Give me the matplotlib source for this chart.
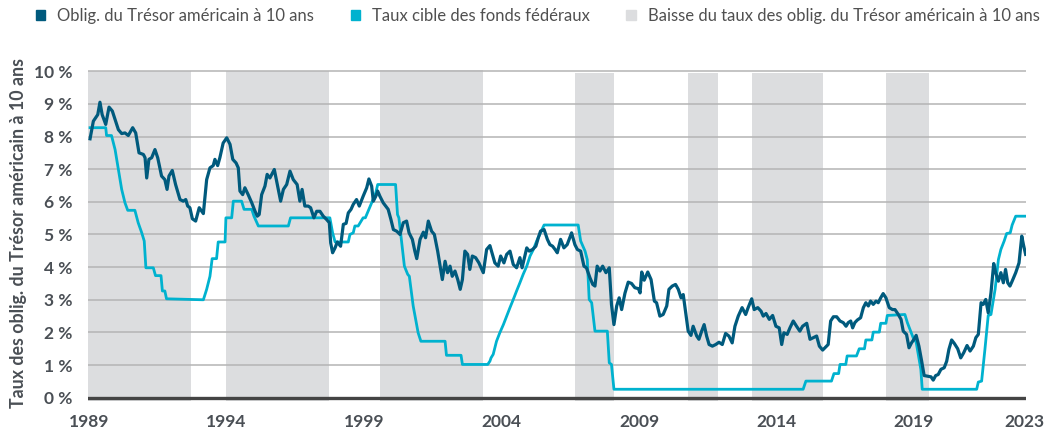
import matplotlib
matplotlib.use("Agg")
import matplotlib.pyplot as plt
from matplotlib.patches import Patch

# 10-year Treasury yield (chart-year, %)
t10_year = [1989.04, 1989.16, 1989.32, 1989.40, 1989.48, 1989.61, 1989.73, 1989.85, 1989.97,
            1990.07, 1990.19, 1990.31, 1990.43, 1990.59, 1990.70, 1990.82, 1990.98,
            1991.04, 1991.10, 1991.18, 1991.28, 1991.40, 1991.50, 1991.64, 1991.76, 1991.84, 1991.91,
            1992.03, 1992.15, 1992.31, 1992.43, 1992.52, 1992.59, 1992.67, 1992.76, 1992.88,
            1993.01, 1993.16, 1993.28, 1993.40, 1993.52, 1993.58, 1993.68, 1993.76, 1993.88,
            1994.01, 1994.13, 1994.23, 1994.35, 1994.43, 1994.49, 1994.59, 1994.67, 1994.79, 1994.92,
            1995.04, 1995.12, 1995.19, 1995.28, 1995.40, 1995.48, 1995.58, 1995.74, 1995.85, 1995.97,
            1996.07, 1996.19, 1996.31, 1996.43, 1996.57, 1996.67, 1996.75, 1996.85, 1996.97,
            1997.06, 1997.18, 1997.28, 1997.40, 1997.52, 1997.64, 1997.74, 1997.79, 1997.86, 1997.95,
            1998.03, 1998.15, 1998.25, 1998.35, 1998.43, 1998.53, 1998.61, 1998.73, 1998.83, 1998.97,
            1999.10, 1999.18, 1999.28, 1999.34, 1999.43, 1999.50, 1999.58, 1999.70, 1999.88, 1999.98,
            2000.07, 2000.19, 2000.31, 2000.43, 2000.55, 2000.64, 2000.76, 2000.85, 2000.92,
            2001.04, 2001.16, 2001.24, 2001.34, 2001.46, 2001.56, 2001.68, 2001.76, 2001.85, 2001.95,
            2002.04, 2002.13, 2002.21, 2002.31, 2002.41, 2002.50, 2002.58, 2002.67, 2002.77, 2002.85, 2002.94,
            2003.06, 2003.18, 2003.34, 2003.46, 2003.58, 2003.76, 2003.88, 2003.97,
            2004.09, 2004.19, 2004.31, 2004.43, 2004.55, 2004.67, 2004.75, 2004.92,
            2005.01, 2005.13, 2005.25, 2005.34, 2005.42, 2005.55, 2005.67, 2005.76, 2005.86, 2005.95,
            2006.03, 2006.15, 2006.27, 2006.39, 2006.55, 2006.67, 2006.76, 2006.88,
            2007.00, 2007.09, 2007.22, 2007.32, 2007.40, 2007.48, 2007.58, 2007.68, 2007.80, 2007.92,
            2008.00, 2008.09, 2008.19, 2008.28, 2008.37, 2008.49, 2008.61, 2008.73, 2008.85, 2008.98,
            2009.04, 2009.10, 2009.19, 2009.32, 2009.44, 2009.56, 2009.64, 2009.76, 2009.88,
            2010.01, 2010.09, 2010.21, 2010.33, 2010.43, 2010.53, 2010.61, 2010.70, 2010.79, 2010.89, 2010.97,
            2011.10, 2011.18, 2011.28, 2011.37, 2011.46, 2011.55, 2011.67, 2011.79, 2011.91,
            2012.03, 2012.15, 2012.27, 2012.39, 2012.49, 2012.61, 2012.75, 2012.88, 2012.97,
            2013.10, 2013.19, 2013.32, 2013.44, 2013.52, 2013.62, 2013.74, 2013.86, 2013.98,
            2014.10, 2014.19, 2014.27, 2014.39, 2014.49, 2014.61, 2014.73, 2014.85, 2014.95,
            2015.10, 2015.22, 2015.34, 2015.46, 2015.56, 2015.68, 2015.80, 2015.88, 2015.97,
            2016.07, 2016.19, 2016.31, 2016.43, 2016.53, 2016.61, 2016.70, 2016.77, 2016.85, 2016.94,
            2017.06, 2017.16, 2017.25, 2017.34, 2017.42, 2017.52, 2017.62, 2017.70, 2017.79, 2017.88, 2017.98,
            2018.10, 2018.22, 2018.31, 2018.43, 2018.53, 2018.61, 2018.73, 2018.82, 2018.91,
            2019.00, 2019.08, 2019.18, 2019.28, 2019.37, 2019.50, 2019.62, 2019.70, 2019.79, 2019.88, 2019.98,
            2020.10, 2020.19, 2020.27, 2020.37, 2020.47, 2020.59, 2020.70, 2020.81, 2020.93,
            2021.04, 2021.16, 2021.25, 2021.34, 2021.44, 2021.52, 2021.61, 2021.70, 2021.80, 2021.90, 2021.97,
            2022.07, 2022.16, 2022.25, 2022.33, 2022.41, 2022.49, 2022.57, 2022.70, 2022.82, 2022.92, 2022.98,
            2023.06]
t10_val = [7.93, 8.47, 8.67, 9.05, 8.67, 8.37, 8.90, 8.78, 8.47,
           8.21, 8.09, 8.11, 8.03, 8.27, 8.11, 7.50, 7.45,
           7.35, 6.73, 7.30, 7.35, 7.60, 7.35, 6.79, 6.68, 6.38, 6.79,
           6.96, 6.53, 6.07, 6.02, 6.07, 5.87, 5.82, 5.48, 5.41,
           5.82, 5.64, 6.68, 7.04, 7.11, 7.30, 7.11, 7.35, 7.80,
           7.96, 7.76, 7.30, 7.19, 7.04, 6.33, 6.22, 6.43, 6.22, 5.97,
           5.71, 5.56, 5.61, 6.22, 6.48, 6.84, 6.73, 6.99, 6.53, 6.02,
           6.38, 6.53, 6.94, 6.68, 6.53, 6.02, 6.38, 5.87, 5.87,
           5.82, 5.51, 5.71, 5.71, 5.56, 5.46, 5.36, 4.74, 4.44, 4.59,
           4.77, 4.64, 5.31, 5.34, 5.66, 5.77, 5.92, 6.07, 5.87, 6.17,
           6.43, 6.70, 6.48, 6.02, 6.17, 6.33, 6.17, 5.97, 5.77, 5.46,
           5.15, 5.10, 5.00, 5.36, 5.41, 5.05, 4.85, 4.49, 4.26,
           4.85, 5.07, 4.90, 5.41, 5.10, 5.00, 4.49, 4.08, 3.62, 4.18,
           3.83, 4.03, 3.72, 3.88, 3.62, 3.32, 3.62, 4.49, 4.39, 3.93, 4.34,
           4.29, 4.13, 3.83, 4.54, 4.66, 4.13, 4.03, 4.34,
           4.13, 4.39, 4.49, 4.08, 3.98, 4.29, 3.98, 4.59,
           4.49, 4.54, 4.64, 4.90, 5.10, 5.15, 4.85, 4.69, 4.64, 4.54,
           4.44, 4.85, 4.59, 4.69, 5.05, 4.69, 4.54, 4.49,
           4.03, 3.98, 3.67, 3.47, 3.42, 4.03, 3.88, 4.03, 3.83, 3.98,
           2.86, 2.24, 2.81, 3.06, 2.70, 3.20, 3.54, 3.50, 3.37, 3.34,
           3.21, 3.85, 3.60, 3.85, 3.62, 2.96, 2.91, 2.50, 2.55,
           2.81, 3.32, 3.42, 3.47, 3.32, 3.06, 3.16, 2.60, 2.04, 1.91, 2.19,
           1.89, 1.79, 2.04, 2.24, 1.89, 1.63, 1.58, 1.63, 1.70,
           1.63, 1.97, 1.89, 1.68, 2.19, 2.50, 2.76, 2.55, 2.76,
           3.03, 2.70, 2.76, 2.65, 2.50, 2.58, 2.40, 2.52, 2.19,
           2.14, 1.63, 1.99, 1.94, 2.14, 2.35, 2.19, 2.04, 2.19,
           2.28, 1.79, 1.84, 1.89, 1.58, 1.46, 1.56, 1.63, 2.35,
           2.48, 2.48, 2.35, 2.30, 2.19, 2.30, 2.35, 2.14, 2.30, 2.38,
           2.45, 2.76, 2.91, 2.81, 2.96, 2.86, 2.96, 2.91, 3.06, 3.19, 3.06,
           2.76, 2.70, 2.70, 2.55, 2.40, 2.04, 1.94, 1.53, 1.68,
           1.79, 1.91, 1.58, 1.12, 0.68, 0.66, 0.64, 0.54, 0.68, 0.71, 0.87,
           0.92, 1.12, 1.48, 1.77, 1.66, 1.50, 1.22, 1.38, 1.60,
           1.43, 1.58, 1.84, 1.94, 2.91, 2.86, 3.01, 2.60, 3.21, 4.11, 3.83,
           3.57, 3.83, 3.52, 3.93, 3.52, 3.42, 3.57, 3.83, 4.13, 4.95, 4.69,
           4.39]

# Fed funds target rate (chart-year, %)
ff_year = [1989.04, 1989.61, 1989.64, 1989.82, 1989.95, 1990.07, 1990.19, 1990.31, 1990.41, 1990.67,
           1990.79, 1990.92, 1991.01, 1991.07, 1991.34, 1991.42, 1991.62, 1991.67, 1991.76, 1991.82,
           1993.16, 1993.28, 1993.40, 1993.48, 1993.64, 1993.70, 1993.95, 1993.98, 1994.19, 1994.25,
           1994.55, 1994.64, 1994.92, 1995.00, 1995.16, 1996.25, 1996.33, 1997.76, 1997.86, 1997.95,
           1998.43, 1998.49, 1998.61, 1998.67, 1998.79, 1998.97, 1999.05, 1999.18, 1999.33, 1999.43,
           1999.50, 2000.15, 2000.22, 2000.27, 2000.47, 2000.59, 2000.65, 2000.79, 2000.97, 2001.07,
           2001.95, 2002.00, 2002.53, 2002.58, 2003.50, 2003.58, 2003.62, 2003.70, 2003.82, 2003.94,
           2004.07, 2004.19, 2004.31, 2004.43, 2004.55, 2004.67, 2004.79, 2004.92, 2005.04, 2005.16,
           2005.28, 2005.42, 2005.55, 2006.79, 2006.88, 2007.04, 2007.12, 2007.19, 2007.28, 2007.40,
           2007.85, 2007.92, 2008.00, 2008.09, 2014.97, 2015.07, 2016.00, 2016.09, 2016.26, 2016.31,
           2016.52, 2016.57, 2016.91, 2017.01, 2017.20, 2017.25, 2017.47, 2017.52, 2017.74, 2017.79,
           2017.98, 2018.03, 2018.67, 2018.76, 2018.97, 2019.08, 2019.25, 2019.30, 2021.28, 2021.34,
           2021.46, 2021.58, 2021.70, 2021.80, 2021.95, 2022.07, 2022.16, 2022.28, 2022.37, 2022.50,
           2022.57, 2022.70, 2023.06]
ff_val = [8.27, 8.27, 8.03, 8.03, 7.60, 6.99, 6.38, 5.97, 5.74, 5.74,
          5.36, 5.05, 4.80, 3.98, 3.98, 3.74, 3.74, 3.27, 3.27, 3.03,
          3.00, 3.32, 3.72, 4.26, 4.26, 4.77, 4.77, 5.51, 5.51, 6.02,
          6.02, 5.77, 5.77, 5.56, 5.26, 5.26, 5.51, 5.51, 5.05, 4.77,
          4.77, 5.00, 5.05, 5.26, 5.26, 5.51, 5.51, 5.77, 6.07, 6.28,
          6.53, 6.53, 5.61, 5.51, 4.03, 3.78, 3.72, 2.81, 1.99, 1.73,
          1.73, 1.30, 1.30, 1.02, 1.02, 1.12, 1.22, 1.33, 1.73, 1.99,
          2.24, 2.50, 2.76, 3.01, 3.27, 3.52, 3.78, 4.03, 4.34, 4.54,
          4.80, 5.05, 5.29, 5.29, 4.80, 4.49, 4.23, 3.01, 2.91, 2.04,
          2.04, 1.07, 1.02, 0.26, 0.26, 0.51, 0.51, 0.74, 0.74, 1.02,
          1.02, 1.28, 1.28, 1.50, 1.50, 1.77, 1.77, 2.01, 2.01, 2.28,
          2.28, 2.52, 2.55, 2.30, 1.84, 1.70, 0.87, 0.26, 0.26, 0.48,
          0.51, 1.48, 2.52, 2.55, 3.32, 4.23, 4.54, 4.80, 5.03, 5.05,
          5.29, 5.56, 5.56]

# periods of falling 10-year yield (start, end, top)
fall_start = [1988.96, 1993.98, 1999.58, 2006.67, 2010.78, 2013.11, 2017.98]
fall_end = [1992.70, 1997.73, 2003.33, 2008.09, 2011.86, 2015.68, 2019.53]
fall_top = [10.0, 10.0, 10.05, 9.93, 9.93, 9.93, 9.93]

year_ticks = [1989, 1994, 1999, 2004, 2009, 2014, 2019, 2023]
pct_ticks = list(range(0, 11))

navy = "#005a7d"
cyan = "#00b2cf"
shade = "#dcdddf"
txt = "#4a4f55"

plt.rcParams['font.family'] = ['Lato', 'DejaVu Sans']

fig = plt.figure(figsize=(10.59, 4.34), dpi=100)
ax = fig.add_axes([0.0827, 0.076, 0.8863, 0.775])

for s, e, t in zip(fall_start, fall_end, fall_top):
    ax.fill_between([s, e], -0.1, t, color=shade, lw=0, zorder=0.3)

ax.plot(ff_year, ff_val, color=cyan, lw=2.0, zorder=3)
ax.plot(t10_year, t10_val, color=navy, lw=2.3, zorder=4)

ax.set_xlim(1988.95, 2023.08)
ax.set_ylim(-0.1, 10.2)
ax.set_yticks(pct_ticks)
ax.set_yticklabels([f"{p} %" for p in pct_ticks])
ax.set_xticks(year_ticks)
ax.set_xticklabels([str(y) for y in year_ticks])
ax.tick_params(length=0, labelsize=12.5, labelcolor=txt)
ax.tick_params(axis='y', pad=11)
ax.tick_params(axis='x', pad=9)
for lab in ax.get_xticklabels() + ax.get_yticklabels():
    lab.set_fontweight('bold')

for sp in ax.spines.values():
    sp.set_visible(False)
ax.grid(axis='y', color='#b4b4b4', lw=1.1)
ax.grid(axis='x', visible=False)
ax.set_axisbelow(True)
ax.axhline(0, color='#444444', lw=2.4, zorder=5)

ax.set_ylabel("Taux des oblig. du Trésor américain à 10 ans", fontsize=12.8,
              fontweight='bold', color=txt, labelpad=5)

handles = [Patch(color=navy), Patch(color=cyan), Patch(color=shade)]
labels = ["Oblig. du Trésor américain à 10 ans", "Taux cible des fonds fédéraux",
          "Baisse du taux des oblig. du Trésor américain à 10 ans"]
fig.legend(handles, labels, ncol=3, loc='center left', bbox_to_anchor=(0.034, 0.963),
           frameon=False, fontsize=12, labelcolor='#505050', handlelength=0.55,
           handleheight=0.55, handletextpad=0.72, columnspacing=2.2,
           borderpad=0, borderaxespad=0)

fig.savefig("out.png", dpi=100)
